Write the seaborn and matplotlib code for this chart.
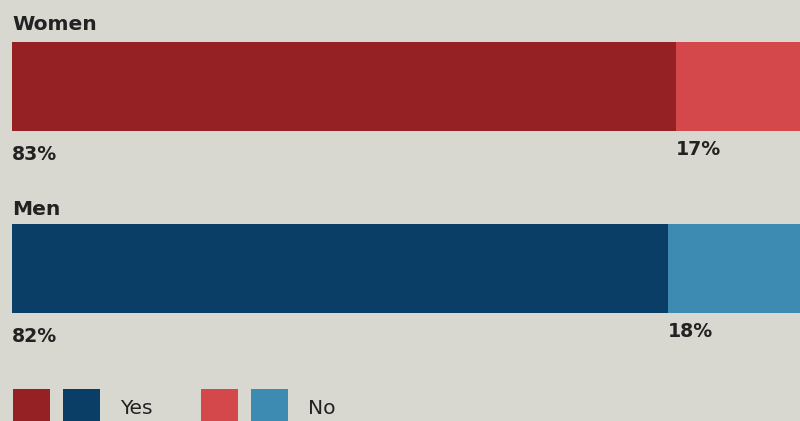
import matplotlib
matplotlib.use("Agg")
import matplotlib.pyplot as plt
from matplotlib.patches import Rectangle
from matplotlib.legend_handler import HandlerTuple
import seaborn as sns
import pandas as pd

groups = ["Women", "Men"]
yes_vals = [83, 82]
no_vals = [17, 18]
yes_colors = ["#962125", "#0B3E66"]
no_colors = ["#D4474A", "#3D8BB3"]
legend_labels = ["Yes", "No"]

BG = "#D9D8D0"
TXT = "#222222"

sns.set_theme(style="white")
plt.rcParams["font.family"] = ["DejaVu Sans"]

df = pd.DataFrame({"group": groups, "yes": yes_vals, "no": no_vals})
df["total"] = df["yes"] + df["no"]

fig = plt.figure(figsize=(8.0, 4.21), dpi=100, facecolor=BG)
ax = fig.add_axes([0, 0, 1, 1])
ax.set_facecolor(BG)

bw = 89 / 182
sns.barplot(data=df, x="total", y="group", hue="group", orient="h",
            palette=dict(zip(groups, no_colors)), width=bw, saturation=1,
            linewidth=0, legend=False, ax=ax)
sns.barplot(data=df, x="yes", y="group", hue="group", orient="h",
            palette=dict(zip(groups, yes_colors)), width=bw, saturation=1,
            linewidth=0, legend=False, ax=ax)

# pixel mapping: x pixel = 12 + 8*pct ; y center of bar 0 at 86.5px, 182px per category
ax.set_xlim(-12 / 8, (800 - 12) / 8)
ax.set_ylim((421 - 86.5) / 182, -86.5 / 182)
ax.axis("off")

fs = 14.6
fs_pct = 13.6
title_off = [-0.338, -0.325]
for i, g in enumerate(groups):
    ax.text(0, i + title_off[i], g, ha="left", va="center", fontsize=fs,
            fontweight="bold", color=TXT)
    ax.text(0, i + 0.374, f"{yes_vals[i]}%", ha="left", va="center",
            fontsize=fs_pct, fontweight="bold", color=TXT)
    ax.text(yes_vals[i], i + 0.347, f"{no_vals[i]}%", ha="left", va="center",
            fontsize=fs_pct, fontweight="bold", color=TXT)

h_yes = tuple(Rectangle((0, 0), 1, 1, facecolor=c, edgecolor="none", linewidth=0) for c in yes_colors)
h_no = tuple(Rectangle((0, 0), 1, 1, facecolor=c, edgecolor="none", linewidth=0) for c in no_colors)
fpx = fs * 100 / 72
sq = 37
hh = (sq / fpx - 0.245) / 0.65
leg = ax.legend([h_yes, h_no], legend_labels,
                handler_map={tuple: HandlerTuple(ndivide=None, pad=13 / fpx)},
                loc="upper left", bbox_to_anchor=(13 / 800, 1 - 389 / 421),
                bbox_transform=fig.transFigure, ncol=2, frameon=False,
                fontsize=fs, borderpad=0, borderaxespad=0,
                handlelength=87 / fpx, handleheight=hh,
                handletextpad=20 / fpx, columnspacing=48 / fpx)
for t in leg.get_texts():
    t.set_color(TXT)

fig.savefig("out.png", dpi=100, facecolor=BG)
